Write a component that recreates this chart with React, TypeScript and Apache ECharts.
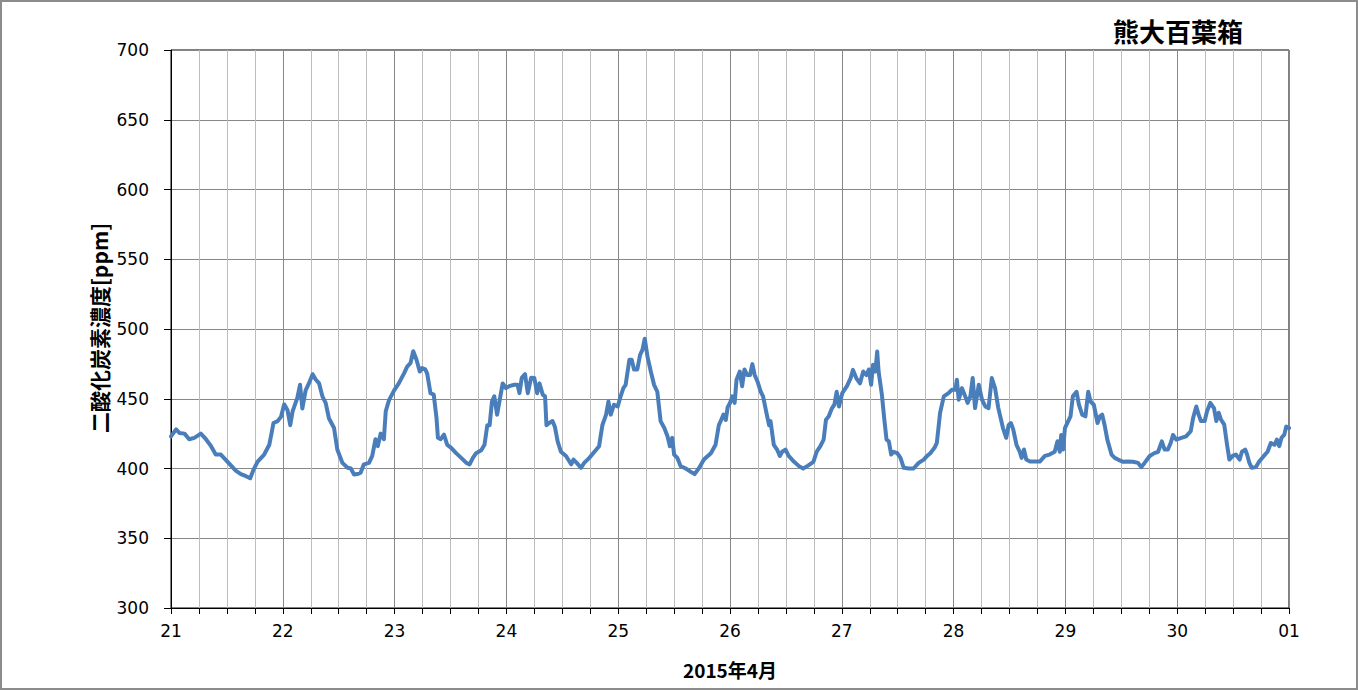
import React, { useEffect, useRef } from "react";
import * as echarts from "echarts";

const chartTitle = "熊大百葉箱";
const yAxisTitle = "二酸化炭素濃度[ppm]";
const xAxisTitle = "2015年4月";
const xTickLabels = ["21", "22", "23", "24", "25", "26", "27", "28", "29", "30", "01"];
const yMin = 300;
const yMax = 700;
const yStep = 50;

// hours since 2015-04-21 00:00
const hours = [
  0, 1.1, 1.8, 2.9, 3.9, 5.0, 6.4, 7.5, 8.6, 9.6, 10.7, 11.8, 12.9, 13.9, 15.0, 16.1, 17.0, 17.7, 18.6, 20.0,
  21.1, 22.0, 22.9, 23.6, 24.3, 25.0, 25.6, 26.1, 27.1, 27.7, 28.2, 28.9, 29.6, 30.4, 31.1, 31.8, 32.5, 33.2, 33.9, 35.0,
  35.7, 36.8, 37.9, 38.6, 39.3, 40.0, 40.7, 41.4, 42.5, 43.2, 43.9, 44.4, 45.0, 45.7, 46.1, 46.8, 47.9, 48.9, 50.0, 50.7,
  51.4, 52.0, 52.7, 53.4, 53.9, 54.6, 55.0, 55.7, 56.4, 57.0, 57.3, 57.9, 58.6, 59.3,
  60.1, 61.2, 62.3, 63.4, 64.1, 64.8, 65.5, 66.6, 67.3, 67.9, 68.4, 68.9, 69.4, 70.0, 70.5, 71.2, 71.9, 72.6, 73.7, 74.4,
  74.8, 75.3, 76.0, 76.6, 77.3, 78.0, 78.6, 79.1, 79.8, 80.3, 80.6, 81.2, 81.9, 82.4, 83.0, 83.7, 84.8, 85.9, 86.4, 87.1,
  88.0, 88.7, 89.8, 90.9, 91.9, 92.6, 93.4, 93.9, 94.4, 95.1, 95.9, 96.4, 97.1, 97.6, 98.4, 98.9, 99.4, 100.1, 100.7, 101.2,
  101.7, 102.3, 103.0, 103.7, 104.4, 105.1, 105.9, 106.6, 107.1, 107.6, 108.0, 108.7, 109.4, 110.5, 111.6, 112.4, 113.4, 114.4, 115.9, 116.9,
  117.6, 118.1, 118.6, 119.1, 119.5,
  120.0, 120.5, 121.0, 121.4, 122.1, 122.6, 123.1, 123.7, 124.3, 124.8, 125.3, 125.9, 126.6, 127.1, 127.9, 128.4, 128.7, 129.4, 130.1, 130.7,
  131.2, 131.9, 132.6, 133.7, 134.8, 135.7, 136.6, 137.9, 138.6, 139.4, 140.1, 140.6, 141.2, 141.9, 142.4, 142.9, 143.4, 144.1, 145.1, 145.9,
  146.4, 147.1, 147.9, 148.6, 149.3, 149.8, 150.3, 150.7, 151.2, 151.6, 151.9, 152.6, 153.1, 153.6, 154.1, 154.6, 155.1, 155.9, 156.6, 157.3,
  158.4, 159.4, 160.5, 161.6, 162.3, 163.0, 163.9, 164.4, 165.1, 165.9, 166.9, 167.6, 168.4, 168.7, 169.1, 169.8, 170.5, 171.0, 171.6, 172.1,
  172.6, 173.4, 174.1, 174.8, 175.5, 176.2, 176.9, 177.6, 178.6, 179.3, 179.8,
  180.3, 180.8, 181.5, 182.2, 182.6, 183.1, 183.6, 184.4, 185.4, 186.5, 187.6, 188.6, 189.7, 190.3, 190.8, 191.1, 191.5, 191.9, 192.6, 193.1,
  193.6, 194.4, 194.9, 195.6, 196.3, 196.9, 197.4, 198.1, 198.9, 199.4, 199.9, 200.4, 201.0, 201.9, 202.6, 203.3, 204.4, 205.4, 206.5, 207.6,
  208.3, 209.0, 210.1, 211.1, 211.9, 212.7, 213.3, 214.0, 214.6, 215.1, 215.8, 216.9, 217.9, 218.9, 219.4, 220.1, 220.6, 221.1, 221.9, 222.4,
  223.1, 223.9, 224.4, 224.9, 225.4, 226.1, 226.7, 227.2, 227.9, 228.6, 229.4, 229.9, 230.6, 231.0, 231.5, 232.0, 232.9, 233.6, 234.6, 235.4,
  236.1, 236.9, 237.4, 237.9, 238.4, 239.0, 239.4, 240.0,
];

const co2 = [
  423, 428, 425.5, 425, 421, 422, 425, 421, 416, 410, 410, 406, 402, 398.5, 396, 394.5, 393, 399, 405, 410,
  417, 432.6, 434, 437, 446, 442, 431, 441, 450.5, 460, 443, 456, 461, 467.6, 463.6, 461, 451.7, 447, 436, 429,
  413.6, 404, 400.5, 400, 395.7, 396, 397, 403, 404, 409, 421, 416, 425, 421, 441, 449, 456, 461, 468, 473,
  475.5, 484, 478, 469.5, 472, 471, 468, 454, 453, 436, 422, 421, 424.3, 417,
  415, 411, 407.6, 404, 403, 407.6, 411, 413, 417, 431, 431, 448, 451.7, 438.6, 448, 461, 457.6, 459, 460, 460,
  454, 465, 467.6, 454, 465, 464.8, 454, 461, 453, 451.7, 431, 432.6, 434, 430, 419.5, 412, 409, 403, 406.4, 404,
  400.5, 404, 407.6, 412, 416, 431, 438.6, 448, 438.6, 445.7, 444.5, 450.5, 457.6, 460, 478, 478, 471, 471, 481.4, 485,
  493, 480, 469.5, 460, 455, 434, 429, 423, 416, 422, 410, 407.6, 401.7, 400, 397.6, 396, 400.5, 406.4, 411, 417,
  431, 434.8, 438.6, 434.8, 444,
  447, 451.7, 447, 463.6, 469.5, 459, 471, 467, 467, 474.8, 467, 462.4, 455, 451.7, 438.6, 431, 434, 417, 413.6, 409,
  412, 413.6, 409, 405, 401.7, 400, 401.7, 404.8, 412, 416, 420.7, 435, 437.4, 443.3, 445.7, 455, 444.5, 454, 459, 464.8,
  470.7, 464.8, 461, 469.5, 467, 471, 460, 474.3, 469.5, 483.8, 469.5, 453, 436, 420.7, 419.5, 410, 412, 411, 407.6, 400.5,
  400, 400, 404, 406.4, 409, 411, 414.8, 418.3, 440, 451.7, 454, 456.4, 456.4, 463.6, 449.3, 457.6, 451.7, 447, 451.7, 464.8,
  443.3, 460, 449.3, 444.5, 443.3, 464.8, 457.6, 443.3, 429, 422, 431,
  432.6, 428, 417, 412, 407.6, 413.6, 406.4, 405, 405, 405, 409, 410, 412, 419.5, 412, 424, 413.6, 429, 434, 437.4,
  451.7, 455, 445.7, 438.6, 437.4, 455, 448, 445.7, 432.6, 437.4, 438.6, 431.4, 420.7, 410, 407.6, 406.4, 404.8, 405, 404.8, 404,
  401, 404, 409, 411, 412, 419.5, 413.6, 413.6, 418.3, 424, 420.7, 422, 423, 426.7, 436, 444.5, 438.6, 434, 434, 441,
  447, 443.3, 434, 440, 435, 431.4, 417, 406.4, 409, 410, 406.4, 412, 413.6, 410, 404, 400.5, 401, 405, 409, 412,
  418.3, 417, 420.7, 416, 422, 424.3, 430, 429,
];

export default function App() {
  const ref = useRef<HTMLDivElement>(null);
  useEffect(() => {
    if (!ref.current) return;
    const chart = echarts.init(ref.current, null, { renderer: "svg" });
    const data = hours.map((h, i) => [h, co2[i]]);
    const labelFont = "'DejaVu Sans', sans-serif";
    const cjkFont = "'Noto Sans CJK JP', sans-serif";
    chart.setOption({
      animation: false,
      backgroundColor: "#ffffff",
      grid: {
        left: 171,
        top: 50,
        width: 1118,
        height: 558,
        show: true,
        borderColor: "#000000",
        borderWidth: 1,
        backgroundColor: "transparent",
      },
      xAxis: {
        type: "value",
        min: 0,
        max: 240,
        interval: 24,
        axisLine: { show: true, onZero: false, lineStyle: { color: "#000", width: 1 } },
        axisTick: { show: true, inside: false, length: 6, lineStyle: { color: "#000" } },
        minorTick: { show: true, splitNumber: 4, length: 6, lineStyle: { color: "#000" } },
        splitLine: { show: true, lineStyle: { color: "#878787", width: 1 } },
        minorSplitLine: { show: true, lineStyle: { color: "#bdbdbd", width: 1 } },
        axisLabel: {
          margin: 14,
          fontSize: 17,
          color: "#000",
          fontFamily: labelFont,
          formatter: (v: number) => xTickLabels[Math.round(v / 24)] ?? "",
        },
      },
      yAxis: {
        type: "value",
        min: yMin,
        max: yMax,
        interval: yStep,
        axisLine: { show: true, lineStyle: { color: "#000", width: 1 } },
        axisTick: { show: true, inside: false, length: 7, lineStyle: { color: "#000" } },
        splitLine: { show: true, lineStyle: { color: "#878787", width: 1 } },
        axisLabel: { margin: 22, fontSize: 17, color: "#000", fontFamily: labelFont },
      },
      graphic: [
        {
          type: "text",
          left: 1113,
          top: 17,
          style: { text: chartTitle, fill: "#000", font: `bold 26px ${cjkFont}` },
        },
        {
          type: "text",
          x: 99,
          y: 328,
          rotation: Math.PI / 2,
          style: {
            text: yAxisTitle,
            font: `bold 21px ${cjkFont}`,
            fill: "#000",
            textAlign: "center",
            textVerticalAlign: "middle",
          },
        },
        {
          type: "text",
          x: 730,
          y: 669,
          style: {
            text: xAxisTitle,
            font: `bold 19px ${cjkFont}`,
            fill: "#000",
            textAlign: "center",
            textVerticalAlign: "middle",
          },
        },
      ],
      series: [
        {
          type: "line",
          data,
          showSymbol: false,
          smooth: false,
          lineStyle: { color: "#4a7ebb", width: 4, join: "round", cap: "round" },
          z: 5,
        },
      ],
    });
    return () => chart.dispose();
  }, []);
  return (
    <div style={{ position: "fixed", left: 0, top: 0, width: 1358, height: 690, background: "#fff" }}>
      <div ref={ref} style={{ position: "absolute", left: 0, top: 0, width: 1358, height: 690 }} />
      <div
        style={{
          position: "absolute",
          left: 0,
          top: 0,
          width: 1358,
          height: 690,
          boxSizing: "border-box",
          border: "2px solid #8c8c8c",
          pointerEvents: "none",
        }}
      />
    </div>
  );
}
